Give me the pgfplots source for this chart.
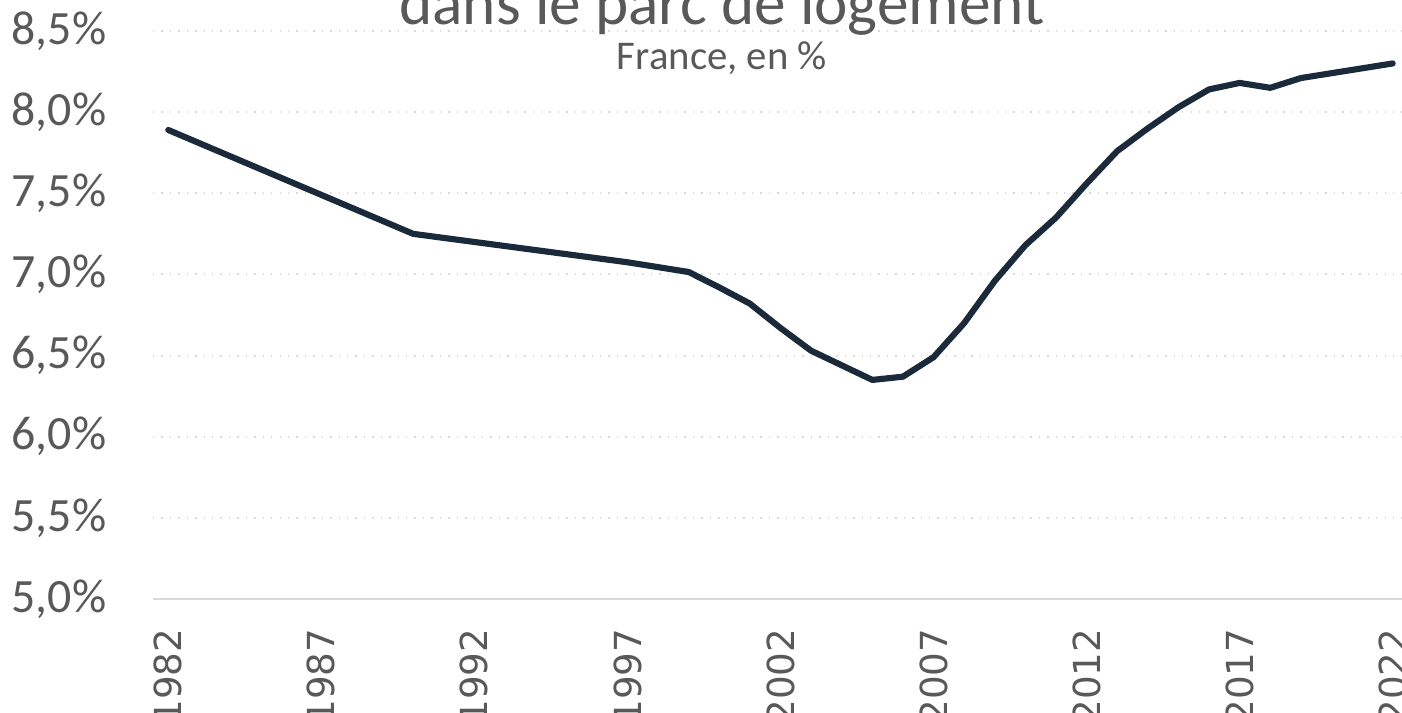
\documentclass[border=0pt]{standalone}
\usepackage{pgfplots}
\pgfplotsset{compat=1.18}
\usepackage{fontspec}
\setmainfont{Carlito}
\newfontfamily\xlabfont{DejaVu Sans}
\definecolor{txtgray}{HTML}{595959}
\definecolor{gridgray}{HTML}{D9D9D9}
\definecolor{navy}{HTML}{1B2A3B}
\begin{document}
\begin{tikzpicture}
\begin{axis}[scale only axis, width=12.55cm, height=5.68cm, at={(0,0)}, anchor=south west,
  xmin=1981.5, xmax=2022.5, ymin=5, ymax=8.5,
  axis line style={draw=none}, clip=false,
  xtick={1982,1987,...,2022}, xticklabels={1982,1987,1992,1997,2002,2007,2012,2017,2022},
  ytick={5,5.5,...,8.5}, yticklabels={{5,0\%},{5,5\%},{6,0\%},{6,5\%},{7,0\%},{7,5\%},{8,0\%},{8,5\%}},
  major tick length=0pt, tick style={draw=none},
  xticklabel style={rotate=90, anchor=east, inner sep=0pt, font=\xlabfont\fontsize{10.6}{12}\selectfont, text=txtgray},
  xticklabel shift=0.29cm,
  yticklabel style={anchor=east, inner sep=0pt, font=\fontsize{13.6}{15}\selectfont, text=txtgray},
  yticklabel shift=0.46cm,
  ymajorgrids, grid style={gridgray, dotted, line width=0.6pt}]
\draw[gridgray, line width=0.7pt] (axis cs:1981.5,5) -- (axis cs:2022.5,5);
\addplot[navy, line width=1.75pt, line join=round, line cap=round] coordinates {
(1982,7.89) (1990,7.25) (1991,7.225) (1992,7.20) (1993,7.175) (1994,7.15) (1995,7.125)
(1996,7.10) (1997,7.075) (1998,7.045) (1999,7.015) (2000,6.92) (2001,6.82) (2002,6.67)
(2003,6.53) (2004,6.44) (2005,6.35) (2006,6.37) (2007,6.49) (2008,6.70) (2009,6.96)
(2010,7.18) (2011,7.35) (2012,7.56) (2013,7.76) (2014,7.90) (2015,8.03) (2016,8.14)
(2017,8.18) (2018,8.15) (2019,8.21) (2020,8.24) (2021,8.27) (2022,8.30)};
\end{axis}
\node[anchor=base, text=txtgray, font=\fontsize{18}{20}\selectfont, inner sep=0pt] at (5.69,5.75) {dans le parc de logement};
\node[anchor=base, text=txtgray, font=\fontsize{11.6}{14}\selectfont, inner sep=0pt] at (5.69,5.30) {France, en \%};
\pgfresetboundingbox
\path (-1.53,-1.13) rectangle (12.49,5.99);
\end{tikzpicture}
\end{document}
